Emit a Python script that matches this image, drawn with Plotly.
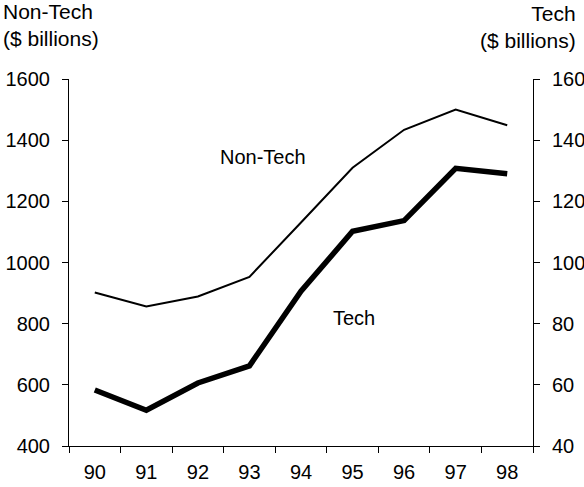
import plotly.graph_objects as go

years = ["90", "91", "92", "93", "94", "95", "96", "97", "98"]
non_tech = [902, 856, 889, 953, 1131, 1310, 1434, 1500, 1449]
tech = [58.3, 51.7, 60.6, 66.2, 90.6, 110.2, 113.7, 130.8, 129.0]

FONT = dict(family="Liberation Sans, Arial, sans-serif", size=20, color="black")
TFONT = dict(family="Liberation Sans, Arial, sans-serif", size=21, color="black")

L, R, T, B = 69, 51, 79, 41
W, H = 584, 487
PW, PH = W - L - R, H - T - B

fig = go.Figure()
fig.add_trace(go.Scatter(x=years, y=non_tech, mode="lines", name="Non-Tech",
                         line=dict(color="black", width=2), yaxis="y"))
fig.add_trace(go.Scatter(x=years, y=tech, mode="lines", name="Tech",
                         line=dict(color="black", width=5.5), yaxis="y2"))

axis_common = dict(showgrid=False, zeroline=False, showline=True,
                   linecolor="black", linewidth=1, ticks="outside",
                   ticklen=6, tickcolor="black", tickfont=FONT,
                   automargin=False)

fig.update_layout(
    template="none",
    width=W, height=H,
    margin=dict(l=L, r=R, t=T, b=B, pad=0),
    paper_bgcolor="white", plot_bgcolor="white",
    showlegend=False,
    font=FONT,
    xaxis=dict(type="category", tickson="boundaries", range=[-0.5, 8.5],
               ticklabelstandoff=8, **axis_common),
    yaxis=dict(range=[400, 1600], dtick=200, ticklabelstandoff=8,
               **axis_common),
    yaxis2=dict(range=[40, 160], dtick=20, overlaying="y", side="right",
                ticklabelstandoff=8, **axis_common),
    annotations=[
        dict(text="Non-Tech<br>($ billions)", xref="paper", yref="paper",
             x=-(L - 1) / PW, y=1 + (T + 2) / PH, xanchor="left", yanchor="top",
             showarrow=False, align="left", font=TFONT),
        dict(text="Tech<br>($ billions)", xref="paper", yref="paper",
             x=(578 - L) / PW, y=1 + T / PH, xanchor="right", yanchor="top",
             showarrow=False, align="right", font=TFONT),
        dict(text="Non-Tech", x=3.27, y=1346, xref="x", yref="y",
             showarrow=False, font=FONT),
        dict(text="Tech", x=5.02, y=82, xref="x", yref="y2",
             showarrow=False, font=FONT),
    ],
)
fig.write_html(
    "out.html",
    config={"displayModeBar": False},
    post_script="document.body.style.margin='0';document.body.style.padding='0';",
)
